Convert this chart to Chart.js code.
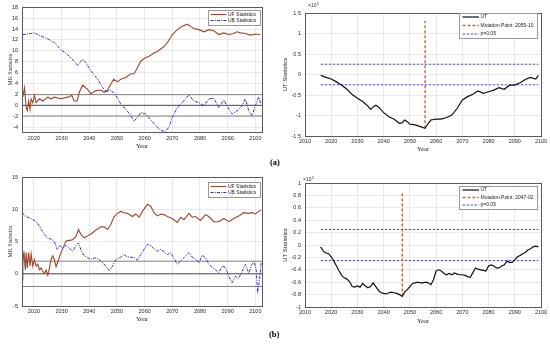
<!DOCTYPE html>
<html><head><meta charset="utf-8">
<script src="https://cdn.jsdelivr.net/npm/chart.js@4"></script>
<style>
html,body{margin:0;padding:0;background:#fff;width:550px;height:346px;overflow:hidden;}
canvas{position:absolute;display:block;}
.lab{position:absolute;font:bold 8.5px "Liberation Serif",serif;color:#000;}
</style></head><body>
<canvas id="c1" width="275" height="155" style="left:0;top:0"></canvas>
<canvas id="c2" width="270" height="160" style="left:280px;top:0"></canvas>
<canvas id="c3" width="275" height="160" style="left:0;top:170px"></canvas>
<canvas id="c4" width="270" height="160" style="left:280px;top:170px"></canvas>
<div class="lab" style="left:270px;top:157px">(a)</div>
<div class="lab" style="left:269px;top:329px">(b)</div>
<script>
// ---------- tick labels ----------
const YEAR_TICKS_MK = [2020,2030,2040,2050,2060,2070,2080,2090,2100];
const YEAR_TICKS_UT = [2010,2020,2030,2040,2050,2060,2070,2080,2090,2100];
const MK_A_TICKS = [-4,-2,0,2,4,6,8,10,12,14,16,18];
const MK_B_TICKS = [-5,0,5,10,15];
const UT_A_TICKS = [-1.5,-1,-0.5,0,0.5,1,1.5];
const UT_B_TICKS = [-1,-0.8,-0.6,-0.4,-0.2,0,0.2,0.4,0.6,0.8,1];

// ---------- reference lines ----------
const CRIT_MK = [1.96, 0, -1.96];
const CRIT_UT = [0.25, -0.25];          // x10^5
const CRIT_UT_SPAN = [2016, 2099];
const MUT_A_YEAR = 2055.8, MUT_A_RANGE = [-1.31, 1.31];
const MUT_B_YEAR = 2047.1, MUT_B_RANGE = [-0.83, 0.83];

// ---------- (a) MK statistics ----------
const UF_A_YEARS = [2016.0,2016.6,2017.2,2017.6,2018.1,2018.6,2019.0,2019.6,2020.2,2020.8,2022.0,2023.2,2025.0,2026.2,2027.4,2029.8,2032.2,2033.7,2034.6,2035.6,2036.4,2037.6,2039.2,2040.6,2042.4,2044.2,2045.4,2046.6,2047.8,2048.8,2050.2,2051.4,2053.2,2055.0,2056.2,2057.4,2058.6,2059.8,2061.6,2063.4,2064.6,2067.0,2068.2,2070.0,2071.8,2073.6,2075.4,2076.6,2077.8,2079.6,2081.4,2083.2,2085.0,2086.8,2088.6,2090.4,2092.2,2093.4,2094.6,2096.4,2098.2,2100.0,2101.8];
const UF_A = [1.5,3.2,-0.4,-1.0,0.8,-0.7,1.2,0.5,1.8,0.5,1.2,0.8,1.5,1.2,1.5,1.2,1.5,1.8,0.8,0.8,2.4,3.7,3.0,2.1,2.7,2.8,2.4,2.8,3.9,4.8,4.3,4.8,5.1,5.8,5.8,6.9,8.1,8.6,9.0,9.6,9.9,10.8,11.5,13.0,13.9,14.5,14.9,14.5,14.1,13.9,13.5,13.9,13.7,13.0,13.3,13.0,13.2,13.5,13.3,13.2,12.9,13.1,13.0];
const UB_A_YEARS = [2016.0,2017.8,2020.2,2022.6,2025.0,2027.4,2029.8,2032.2,2034.6,2035.8,2037.6,2038.8,2040.6,2043.0,2044.8,2046.0,2047.8,2049.6,2051.4,2053.2,2055.0,2056.2,2057.4,2058.6,2060.4,2062.2,2064.0,2065.8,2067.6,2068.8,2070.0,2071.8,2073.6,2076.0,2077.8,2079.6,2081.4,2083.2,2085.0,2086.8,2088.6,2090.4,2091.6,2093.4,2095.2,2096.4,2097.6,2098.8,2100.0,2101.2,2102.0];
const UB_A = [13.0,13.1,13.3,12.7,12.2,11.5,10.2,9.3,8.1,7.3,8.5,7.8,6.3,4.8,3.3,2.5,2.8,1.8,0.2,-0.7,-1.9,-2.9,-2.2,-1.3,-1.6,-2.7,-3.7,-4.6,-4.8,-4.0,-2.2,-0.4,0.5,1.9,0.8,0.5,-0.1,1.2,1.3,-0.4,1.0,-0.7,-1.6,-1.0,-0.1,1.2,-1.0,-1.9,-0.1,1.5,0.2];

// ---------- (a) UT statistics (x10^5) ----------
const UT_A_YEARS = [2016,2018,2020,2022,2024,2026,2028,2030,2032,2034,2035,2036,2037,2038,2040,2042,2044,2046,2047,2048,2049,2050,2052,2054,2055.8,2057,2058,2060,2062,2064,2066,2068,2070,2072,2074,2076,2078,2080,2082,2084,2086,2088,2090,2092,2094,2096,2098,2099];
const UT_A = [-0.02,-0.07,-0.11,-0.18,-0.26,-0.36,-0.49,-0.58,-0.66,-0.77,-0.85,-0.79,-0.75,-0.79,-0.93,-1.03,-1.09,-1.19,-1.18,-1.11,-1.15,-1.21,-1.23,-1.27,-1.31,-1.19,-1.11,-1.09,-1.09,-1.05,-0.99,-0.83,-0.62,-0.54,-0.48,-0.40,-0.46,-0.42,-0.38,-0.32,-0.36,-0.26,-0.26,-0.20,-0.12,-0.07,-0.11,-0.02];

// ---------- (b) MK statistics ----------
const UF_B_YEARS = [2015.7,2016.0,2016.4,2016.9,2017.2,2017.6,2018.1,2018.6,2019.0,2019.6,2020.2,2020.8,2021.4,2022.0,2022.6,2023.2,2023.8,2024.4,2025.0,2025.6,2026.2,2026.8,2027.4,2028.0,2028.9,2029.8,2031.0,2031.6,2032.8,2034.0,2035.2,2036.1,2037.0,2038.2,2039.4,2040.6,2042.4,2044.2,2045.4,2046.6,2047.8,2049.0,2050.2,2051.4,2052.6,2053.8,2055.6,2056.8,2058.0,2059.2,2061.0,2062.2,2063.4,2064.6,2065.8,2067.0,2068.2,2069.4,2070.6,2071.8,2073.0,2074.2,2076.0,2077.2,2078.4,2080.2,2082.0,2083.2,2085.0,2086.8,2088.6,2090.4,2092.2,2094.0,2095.8,2097.6,2098.8,2100.0,2101.2,2102.0];
const UF_B = [-0.9,1.7,3.5,0.6,3.3,0.9,3.3,1.2,3.1,1.2,2.2,1.2,1.5,0.6,0.9,0.4,0.1,0.6,-0.2,0.9,2.2,2.8,2.2,1.1,2.2,3.3,4.5,5.1,5.2,5.3,5.8,6.9,6.1,5.6,5.9,6.2,6.8,7.3,7.3,6.9,7.7,8.9,9.4,9.7,9.5,9.4,8.9,9.3,8.8,9.7,10.8,10.5,9.5,9.0,9.3,9.2,8.9,8.7,8.4,8.0,8.8,8.4,9.4,8.8,8.9,8.3,9.2,8.9,8.1,8.1,8.6,8.1,8.6,9.0,9.5,9.4,9.5,9.3,9.7,9.9];
const UB_B_YEARS = [2015.7,2017.2,2019.0,2020.8,2022.0,2023.8,2025.0,2026.2,2027.4,2028.4,2029.2,2030.4,2031.6,2032.8,2034.0,2035.2,2036.1,2037.0,2038.2,2039.4,2040.6,2042.4,2044.2,2046.0,2047.2,2048.4,2049.6,2051.4,2052.6,2053.8,2055.0,2056.2,2057.4,2058.6,2059.8,2061.0,2062.2,2063.4,2064.6,2065.8,2067.0,2068.2,2069.4,2070.6,2071.8,2073.0,2074.2,2076.0,2077.2,2078.4,2079.6,2080.8,2082.0,2083.2,2084.4,2085.6,2086.8,2088.0,2089.2,2090.4,2091.6,2092.8,2094.0,2095.2,2096.4,2097.6,2098.8,2099.6,2100.3,2100.8,2101.5,2102.1];
const UB_B = [9.5,8.9,8.6,8.1,7.4,6.1,5.5,5.4,5.0,3.8,4.4,4.0,4.4,4.0,3.5,4.4,4.8,3.7,2.8,2.5,2.3,2.5,2.0,1.2,0.5,1.2,2.2,2.6,3.0,2.6,2.6,2.5,2.1,3.0,3.8,4.6,4.4,3.9,3.5,3.8,3.4,3.0,3.3,2.4,1.5,2.0,2.5,3.3,2.6,2.3,1.7,2.9,2.5,1.5,1.0,0.6,0.2,1.2,1.0,-0.4,-1.4,-0.4,-0.7,0.4,1.5,0.1,1.5,1.9,0.6,-3.0,-0.9,1.7];

// ---------- (b) UT statistics (x10^5) ----------
const UT_B_YEARS = [2016,2017,2018,2019,2020,2021,2022,2023,2024,2025,2026,2027,2028,2029,2030,2031,2032,2033,2034,2035,2036,2037,2038,2039,2040,2041,2042,2043,2044,2045,2046,2047.1,2048,2049,2050,2051,2052,2053,2054,2055,2056,2057,2058,2059,2060,2061,2062,2063,2064,2065,2066,2067,2068,2069,2070,2071,2072,2073,2074,2075,2076,2077,2078,2079,2080,2081,2082,2083,2084,2085,2086,2087,2088,2089,2090,2091,2092,2093,2094,2095,2096,2097,2098,2099];
const UT_B = [-0.03,-0.10,-0.13,-0.14,-0.19,-0.26,-0.34,-0.42,-0.49,-0.53,-0.55,-0.59,-0.67,-0.68,-0.66,-0.68,-0.62,-0.66,-0.69,-0.67,-0.61,-0.67,-0.73,-0.77,-0.78,-0.79,-0.77,-0.76,-0.77,-0.78,-0.80,-0.83,-0.76,-0.72,-0.67,-0.62,-0.61,-0.60,-0.61,-0.61,-0.60,-0.61,-0.64,-0.56,-0.42,-0.40,-0.42,-0.46,-0.48,-0.46,-0.48,-0.45,-0.47,-0.48,-0.48,-0.49,-0.51,-0.52,-0.45,-0.37,-0.39,-0.40,-0.41,-0.42,-0.34,-0.32,-0.34,-0.37,-0.37,-0.34,-0.32,-0.26,-0.28,-0.28,-0.24,-0.19,-0.17,-0.14,-0.12,-0.08,-0.06,-0.03,-0.02,-0.03];

// ---------- helpers ----------
const pts = (xs, ys) => xs.map((x, i) => ({x, y: ys[i]}));
const hline = (y, x0, x1) => [{x: x0, y}, {x: x1, y}];
const vline = (x, r) => [{x, y: r[0]}, {x, y: r[1]}];
const SANS = '"Liberation Sans", Arial, sans-serif';
const SERIF = '"Liberation Serif", "Times New Roman", serif';
const UF_COL = '#a2452a', UB_COL = '#2f2fd6';

const decor = {
  id: 'decor',
  afterDatasetsDraw(chart, args, o) {
    const {ctx, chartArea: a} = chart;
    ctx.save();
    ctx.setLineDash([]);
    ctx.strokeStyle = '#5a5a5a'; ctx.lineWidth = 1;
    ctx.strokeRect(Math.floor(a.left) + 0.5, Math.floor(a.top) + 0.5, Math.round(a.right - a.left), Math.round(a.bottom - a.top));
    if (o.legend) {
      const L = o.legend;
      ctx.fillStyle = '#fff'; ctx.fillRect(L.x, L.y, L.w, L.h);
      ctx.strokeStyle = '#9a9a9a'; ctx.lineWidth = 1;
      ctx.strokeRect(L.x + 0.5, L.y + 0.5, L.w, L.h);
      ctx.font = '5px ' + SANS; ctx.textBaseline = 'middle'; ctx.textAlign = 'left';
      L.items.forEach((idx, k) => {
        const ds = chart.data.datasets[idx];
        const y = L.y + L.rows[k];
        ctx.strokeStyle = ds.borderColor; ctx.lineWidth = ds.borderWidth;
        ctx.setLineDash(ds.borderDash || []);
        ctx.beginPath(); ctx.moveTo(L.x + L.lx0, y); ctx.lineTo(L.x + L.lx1, y); ctx.stroke();
        ctx.setLineDash([]);
        ctx.fillStyle = '#1a1a1a'; ctx.fillText(ds.label, L.x + L.tx, y);
      });
    }
    if (o.exp) {
      ctx.fillStyle = '#333'; ctx.textBaseline = 'alphabetic'; ctx.textAlign = 'left';
      ctx.font = '5px ' + SANS; ctx.fillText('\u00d710', o.exp.x, o.exp.y);
      const w = ctx.measureText('\u00d710').width;
      ctx.font = '3.8px ' + SANS; ctx.fillText('5', o.exp.x + w + 0.3, o.exp.y - 2.5);
    }
    ctx.restore();
  }
};

function makeChart(id, c) {
  return new Chart(document.getElementById(id), {
    type: 'line',
    data: {datasets: c.datasets},
    plugins: [decor],
    options: {
      responsive: false, animation: false, devicePixelRatio: 1,
      layout: {padding: c.pad},
      elements: {point: {radius: 0, hoverRadius: 0}, line: {tension: 0}},
      plugins: {legend: {display: false}, tooltip: {enabled: false}, decor: c.decor},
      scales: {
        x: {
          type: 'linear', min: c.xmin, max: c.xmax,
          afterBuildTicks: s => { s.ticks = c.xticks.map(v => ({value: v})); },
          afterFit: s => { s.height = c.xH; },
          grid: {color: '#e9e9e9', lineWidth: 1, drawTicks: false},
          border: {display: false},
          ticks: {font: {family: SANS, size: 5.5}, color: '#2b2b2b', padding: c.xtp, maxRotation: 0, autoSkip: false, callback: v => String(v)},
          title: {display: true, text: 'Year', font: {family: SERIF, size: 6.5}, color: '#222', padding: {top: 0, bottom: c.xtitlePad}}
        },
        y: {
          type: 'linear', min: c.ymin, max: c.ymax,
          afterBuildTicks: s => { s.ticks = c.yticks.map(v => ({value: v})); },
          afterFit: s => { s.width = c.yW; },
          grid: {color: '#e9e9e9', lineWidth: 1, drawTicks: false},
          border: {display: false},
          ticks: {font: {family: SANS, size: 5.5}, color: '#2b2b2b', padding: 4, autoSkip: false, callback: v => String(v)},
          title: {display: true, text: c.ytitle, font: {family: c.yfont, size: c.ytsize}, color: '#222', padding: {top: c.ytitlePad, bottom: 0}}
        }
      }
    }
  });
}

function mkSets(ufx, uf, ubx, ub, xmin, xmax) {
  return [
    {label: 'UB Statistics', data: pts(ubx, ub), borderColor: UB_COL, borderWidth: 1, borderDash: [3, 1.2, 1, 1.2]},
    {label: 'UF Statistics', data: pts(ufx, uf), borderColor: UF_COL, borderWidth: 1.1},
    {label: 'c1', data: hline(CRIT_MK[0], xmin, xmax), borderColor: '#808080', borderWidth: 1},
    {label: 'c0', data: hline(CRIT_MK[1], xmin, xmax), borderColor: '#4a4a4a', borderWidth: 1},
    {label: 'c2', data: hline(CRIT_MK[2], xmin, xmax), borderColor: '#808080', borderWidth: 1}
  ];
}
function utSets(utx, ut, mutYear, mutRange, mutLabel) {
  return [
    {label: 'UT', data: pts(utx, ut), borderColor: '#111', borderWidth: 1.2},
    {label: mutLabel, data: vline(mutYear, mutRange), borderColor: '#c0683a', borderWidth: 1.4, borderDash: [3, 2]},
    {label: 'p=0.05', data: hline(CRIT_UT[0], CRIT_UT_SPAN[0], CRIT_UT_SPAN[1]), borderColor: '#4d4de0', borderWidth: 1, borderDash: [2.5, 1.5]},
    {label: 'p=0.05 ', data: hline(CRIT_UT[1], CRIT_UT_SPAN[0], CRIT_UT_SPAN[1]), borderColor: '#4d4de0', borderWidth: 1, borderDash: [2.5, 1.5]}
  ];
}

const MK_XMIN = 2015.7, MK_XMAX = 2102.4;

makeChart('c1', {
  datasets: mkSets(UF_A_YEARS, UF_A, UB_A_YEARS, UB_A, MK_XMIN, MK_XMAX),
  pad: {left: 0, top: 6, right: 13, bottom: 0},
  xmin: MK_XMIN, xmax: MK_XMAX, xticks: YEAR_TICKS_MK, xH: 23, xtp: 3, xtitlePad: 5,
  ymin: -4.9, ymax: 18, yticks: MK_A_TICKS, yW: 22,
  ytitle: 'MK Statistics', yfont: SERIF, ytsize: 5.8, ytitlePad: 6.5,
  decor: {legend: {x: 208, y: 10, w: 52, h: 15, rows: [4.5, 10.5], items: [1, 0], lx0: 2.5, lx1: 18.5, tx: 20}}
});

makeChart('c2', {
  datasets: utSets(UT_A_YEARS, UT_A, MUT_A_YEAR, MUT_A_RANGE, 'Mutation Point: 2055-10'),
  pad: {left: 0, top: 13, right: 9, bottom: 0},
  xmin: 2010, xmax: 2100, xticks: YEAR_TICKS_UT, xH: 24, xtp: 2.5, xtitlePad: 7,
  ymin: -1.5, ymax: 1.5, yticks: UT_A_TICKS, yW: 25,
  ytitle: 'UT Statistics', yfont: SANS, ytsize: 6, ytitlePad: 1.4,
  decor: {legend: {x: 179, y: 13, w: 78, h: 25, rows: [4, 12.5, 21], items: [0, 1, 2], lx0: 3.5, lx1: 20, tx: 21.5},
          exp: {x: 28, y: 7}}
});

makeChart('c3', {
  datasets: mkSets(UF_B_YEARS, UF_B, UB_B_YEARS, UB_B, MK_XMIN, MK_XMAX),
  pad: {left: 0, top: 7, right: 13, bottom: 0},
  xmin: MK_XMIN, xmax: MK_XMAX, xticks: YEAR_TICKS_MK, xH: 24, xtp: 2.3, xtitlePad: 7,
  ymin: -5, ymax: 15, yticks: MK_B_TICKS, yW: 22,
  ytitle: 'MK Statistics', yfont: SERIF, ytsize: 5.8, ytitlePad: 6.5,
  decor: {legend: {x: 208, y: 12, w: 52, h: 15, rows: [4.5, 10.5], items: [1, 0], lx0: 2.5, lx1: 18.5, tx: 20}}
});

makeChart('c4', {
  datasets: utSets(UT_B_YEARS, UT_B, MUT_B_YEAR, MUT_B_RANGE, 'Mutation Point: 2047-02'),
  pad: {left: 0, top: 13, right: 9, bottom: 0},
  xmin: 2010, xmax: 2100, xticks: YEAR_TICKS_UT, xH: 23, xtp: 2, xtitlePad: 4.4,
  ymin: -1, ymax: 1, yticks: UT_B_TICKS, yW: 25,
  ytitle: 'UT Statistics', yfont: SANS, ytsize: 6, ytitlePad: 1.4,
  decor: {legend: {x: 179, y: 16, w: 78, h: 23, rows: [4, 11.5, 19], items: [0, 1, 2], lx0: 3.5, lx1: 20, tx: 21.5},
          exp: {x: 23, y: 11}}
});
</script>
</body></html>
